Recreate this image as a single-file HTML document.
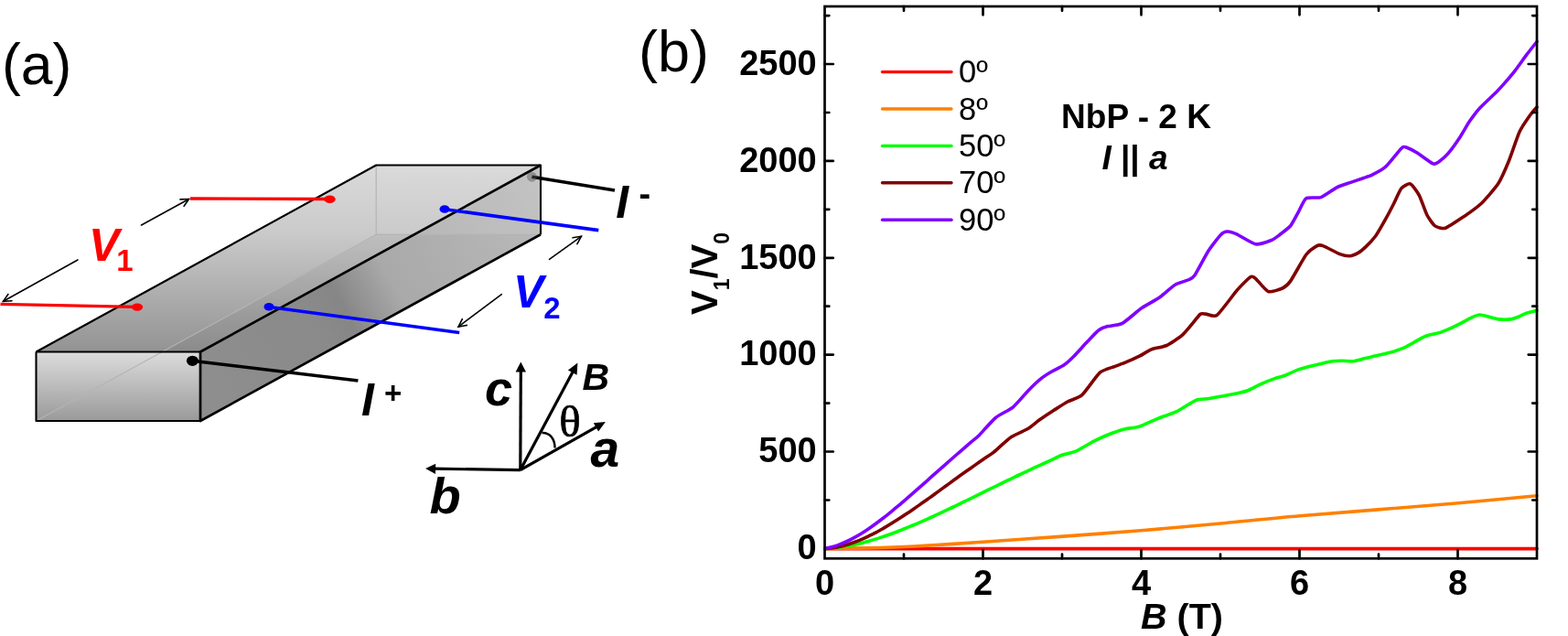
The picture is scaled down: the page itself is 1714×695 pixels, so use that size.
<!DOCTYPE html>
<html><head><meta charset="utf-8"><style>
html,body{margin:0;padding:0;background:#fff;}
svg{display:block;}
text{font-family:"Liberation Sans",Arial,sans-serif;}
.serif{font-family:"Liberation Serif","Times New Roman",serif;}
</style></head><body>
<svg width="1714" height="695" viewBox="0 0 1714 695">
<defs>
<linearGradient id="gTop" gradientUnits="userSpaceOnUse" x1="0" y1="180.5" x2="0" y2="384.5">
<stop offset="0" stop-color="#dadada"/><stop offset="0.35" stop-color="#cbcbcb"/><stop offset="1" stop-color="#939393"/>
</linearGradient>
<linearGradient id="gRight" gradientUnits="userSpaceOnUse" x1="219" y1="422" x2="591" y2="218">
<stop offset="0" stop-color="#8e8e8e"/><stop offset="0.34" stop-color="#8a8a8a"/><stop offset="0.42" stop-color="#868686"/><stop offset="0.56" stop-color="#a9a9a9"/><stop offset="1" stop-color="#bababa"/>
</linearGradient>
<linearGradient id="gFront" x1="0" y1="0" x2="0" y2="1">
<stop offset="0" stop-color="#dcdcdc"/><stop offset="1" stop-color="#9a9a9a"/>
</linearGradient>
</defs>

<!-- panel a -->
<text x="2" y="92" font-size="62.5">(a)</text>

<!-- bar -->
<polygon points="39.5,384.5 219,384.5 591,180.5 411.2,180.5" fill="url(#gTop)"/>
<polygon points="219,384.5 591,180.5 591,256.3 219,460" fill="url(#gRight)"/>
<polygon points="39.5,384.5 219,384.5 219,460 39.5,460" fill="url(#gFront)"/>
<polygon points="177,384.5 219,384.5 453,256.3 411.2,256.3" fill="#000" opacity="0.05"/>
<polygon points="453,256.3 591,180.5 591,256.3" fill="#fff" opacity="0.12"/>
<g stroke="#b4b4b4" stroke-width="1.2" fill="none">
<path d="M39.5,460L411.2,256.3L591,256.3M411.2,256.3V180.5"/>
</g>
<g stroke="#000" fill="none" stroke-linejoin="round">
<path d="M39.5,384.5L411.2,180.5H591V256.3M39.5,384.5H219M39.5,384.5V460H219" stroke-width="2.1"/>
<path d="M591,256.3L219,460V384.5L591,180.5" stroke-width="2.7"/>
</g>

<!-- wires -->
<g stroke-width="3.3" fill="none" stroke-linecap="butt">
<line x1="208" y1="217" x2="358" y2="217.5" stroke="#ff0000"/>
<line x1="0.5" y1="332.4" x2="148" y2="335.3" stroke="#ff0000"/>
<line x1="484.7" y1="228.5" x2="654.3" y2="251.6" stroke="#0000ff" stroke-width="3.6"/>
<line x1="292.7" y1="335.3" x2="502.2" y2="363.5" stroke="#0000ff" stroke-width="3.6"/>
<line x1="210" y1="394.3" x2="391.4" y2="415.9" stroke="#000" stroke-width="3.5"/>
<line x1="581.4" y1="193.2" x2="672" y2="208" stroke="#000" stroke-width="3.5"/>
</g>
<ellipse cx="360.5" cy="217.8" rx="6.2" ry="4.2" fill="#ff0000"/>
<ellipse cx="150" cy="335.6" rx="6.2" ry="4.2" fill="#ff0000"/>
<ellipse cx="486" cy="228.5" rx="5.5" ry="4.3" fill="#0000ff"/>
<ellipse cx="294" cy="335.3" rx="5.5" ry="4.3" fill="#0000ff"/>
<ellipse cx="210.4" cy="394.3" rx="6.5" ry="5.6" fill="#000"/>
<circle cx="581.4" cy="193.2" r="5.5" fill="#555" opacity="0.45"/>

<!-- dimension arrows -->
<g stroke="#000" stroke-width="1.6" fill="none" stroke-linecap="round" stroke-linejoin="miter">
<line x1="154.5" y1="246" x2="206.5" y2="217.5"/><polyline points="201.1,225.3 206.5,217.5 197.0,217.9"/><line x1="85" y1="284" x2="3.5" y2="329.3"/><polyline points="8.9,321.5 3.5,329.3 13.0,328.8"/><line x1="600.5" y1="283.3" x2="635.4" y2="258.3"/><polyline points="630.9,266.7 635.4,258.3 626.0,259.8"/><line x1="548.3" y1="321.7" x2="501" y2="357.1"/><polyline points="505.3,348.6 501,357.1 510.3,355.4"/>
</g>

<text x="97" y="285" font-size="50" font-weight="bold" font-style="italic" fill="#ff0000">V<tspan font-size="33" font-style="normal" dx="-3" dy="11">1</tspan></text>
<text x="561" y="336" font-size="50" font-weight="bold" font-style="italic" fill="#0000ff">V<tspan font-size="33" font-style="normal" dy="12">2</tspan></text>
<text x="395" y="454" font-size="50" font-weight="bold" font-style="italic">I</text>
<text x="420" y="441" font-size="33" font-weight="bold">+</text>
<text x="673.3" y="238.3" font-size="50" font-weight="bold" font-style="italic">I</text>
<text x="698.5" y="224.5" font-size="38" font-weight="bold">-</text>

<!-- axes triad -->
<line x1="568.8" y1="513.6" x2="569.3" y2="404.4" stroke="#000" stroke-width="3.2"/><polygon points="569.3,395.4 575.0,406.4 563.6,406.4" fill="#000"/><line x1="568.8" y1="513.6" x2="474.1" y2="512.2" stroke="#000" stroke-width="3.2"/><polygon points="465.1,512.1 476.2,506.7 476.0,517.9" fill="#000"/><line x1="568.8" y1="513.6" x2="626.7" y2="405.3" stroke="#000" stroke-width="3.2"/><polygon points="631.4,396.5 630.6,409.7 620.9,404.5" fill="#000"/><line x1="568.8" y1="513.6" x2="653.2" y2="465.9" stroke="#000" stroke-width="3.2"/><polygon points="661.9,461.0 654.1,471.6 648.8,462.2" fill="#000"/>
<path d="M592.5,473C600.5,472.5 606.5,479 606.6,489.5" stroke="#000" stroke-width="2.4" fill="none"/>
<text x="530" y="443" font-size="54" font-weight="bold" font-style="italic">c</text>
<text x="636.5" y="425.5" font-size="41" font-weight="bold" font-style="italic">B</text>
<text x="611.3" y="476.5" font-size="49" class="serif" stroke="#000" stroke-width="0.7">θ</text>
<text x="645.5" y="509.5" font-size="57" font-weight="bold" font-style="italic">a</text>
<text x="469.5" y="560.5" font-size="56" font-weight="bold" font-style="italic">b</text>

<!-- panel b -->
<text x="698" y="78.2" font-size="63">(b)</text>

<g fill="none" stroke-linejoin="round" stroke-linecap="round" stroke-width="3.6">
<path d="M902.0,599.6C979.8,599.6 1602.2,599.6 1680.0,599.6" stroke="#ff0000"/>
<path d="M902.0,599.5C903.0,599.5 907.3,599.5 912.0,599.4C916.7,599.3 940.1,599.1 948.9,598.9C957.7,598.7 987.5,597.7 1000.0,597.0C1012.5,596.3 1058.5,593.4 1074.4,592.3C1090.3,591.2 1141.4,587.6 1158.7,586.4C1176.0,585.1 1228.9,581.3 1247.0,579.8C1265.1,578.3 1322.6,573.1 1340.0,571.5C1357.4,569.9 1395.7,565.9 1420.8,563.8C1445.9,561.6 1565.5,552.2 1591.4,550.0C1617.3,547.8 1671.1,542.5 1680.0,541.7" stroke="#ff8000"/>
<path d="M902.0,599.5C902.8,599.5 908.4,599.1 910.0,599.0C911.6,598.9 916.4,598.2 918.0,598.0C919.6,597.8 924.4,597.1 926.0,596.8C927.6,596.5 932.4,595.5 934.0,595.2C935.6,594.9 940.4,593.8 942.0,593.4C943.6,593.0 948.4,591.7 950.0,591.2C951.6,590.8 956.4,589.4 958.0,588.9C959.6,588.4 964.4,586.8 966.0,586.3C967.6,585.8 972.4,584.1 974.0,583.5C975.6,582.9 980.4,581.1 982.0,580.5C983.6,579.9 988.4,577.9 990.0,577.3C991.6,576.6 996.4,574.7 998.0,574.0C999.6,573.3 1004.4,571.3 1006.0,570.6C1007.6,569.9 1012.4,567.8 1014.0,567.1C1015.6,566.4 1020.4,564.1 1022.0,563.4C1023.6,562.7 1028.4,560.5 1030.0,559.7C1031.6,559.0 1036.4,556.7 1038.0,555.9C1039.6,555.1 1044.4,552.9 1046.0,552.1C1047.6,551.3 1052.4,549.0 1054.0,548.2C1055.6,547.4 1060.4,545.1 1062.0,544.3C1063.6,543.5 1068.4,541.2 1070.0,540.4C1071.6,539.6 1076.4,537.2 1078.0,536.4C1079.6,535.6 1084.4,533.3 1086.0,532.5C1087.6,531.7 1092.4,529.4 1094.0,528.6C1095.6,527.8 1100.4,525.5 1102.0,524.7C1103.6,523.9 1108.4,521.7 1110.0,520.9C1111.6,520.1 1116.4,517.9 1118.0,517.1C1119.6,516.3 1124.4,514.0 1126.0,513.3C1127.6,512.5 1132.4,510.3 1134.0,509.6C1135.6,508.9 1140.4,506.7 1142.0,506.0C1143.6,505.3 1148.2,503.2 1150.0,502.4C1151.8,501.6 1156.9,498.7 1159.6,497.7C1162.3,496.7 1173.0,494.4 1176.7,492.8C1180.4,491.2 1192.3,483.8 1196.2,481.8C1200.1,479.9 1212.4,474.6 1215.8,473.3C1219.2,472.0 1227.0,469.4 1230.0,468.7C1233.0,468.0 1241.9,467.3 1245.5,466.1C1249.1,464.9 1262.1,458.8 1266.3,457.1C1270.5,455.4 1282.9,451.3 1287.0,449.3C1291.1,447.3 1304.4,438.5 1307.7,437.1C1311.0,435.7 1317.2,436.1 1320.0,435.7C1322.8,435.3 1332.6,433.6 1335.8,433.0C1339.0,432.4 1348.7,430.5 1351.5,429.9C1354.3,429.3 1361.5,427.7 1364.1,426.7C1366.7,425.7 1374.9,421.2 1377.8,419.9C1380.7,418.6 1390.9,414.5 1393.5,413.6C1396.1,412.7 1401.4,411.5 1404.0,410.5C1406.6,409.5 1416.6,404.7 1419.8,403.6C1423.0,402.5 1431.8,400.3 1435.5,399.4C1439.2,398.5 1453.3,395.2 1456.5,394.7C1459.7,394.2 1464.7,394.2 1467.0,394.2C1469.3,394.2 1477.4,394.9 1479.7,394.7C1482.0,394.5 1488.2,392.6 1490.2,392.1C1492.2,391.6 1497.4,390.3 1500.0,389.7C1502.6,389.1 1512.8,387.1 1516.2,386.1C1519.7,385.2 1531.6,381.4 1534.5,380.2C1537.4,379.0 1543.1,375.5 1545.3,374.3C1547.5,373.1 1554.1,369.2 1556.1,368.3C1558.0,367.4 1562.8,366.1 1564.8,365.6C1566.8,365.1 1572.9,363.9 1575.6,362.9C1578.3,361.9 1588.5,357.5 1591.7,355.9C1594.9,354.3 1605.3,348.5 1607.9,347.3C1610.5,346.1 1615.6,344.1 1617.6,344.0C1619.5,343.9 1625.3,345.7 1627.4,346.2C1629.5,346.7 1635.8,348.6 1638.2,348.9C1640.6,349.2 1648.9,349.2 1651.1,348.9C1653.2,348.6 1657.9,346.9 1659.7,346.2C1661.5,345.5 1667.5,342.6 1669.5,341.9C1671.5,341.2 1679.0,339.5 1680.0,339.2" stroke="#00ff00"/>
<path d="M902.0,599.5C902.8,599.4 908.4,599.0 910.0,598.8C911.6,598.6 916.4,597.7 918.0,597.3C919.6,596.9 924.4,595.7 926.0,595.2C927.6,594.7 932.4,593.1 934.0,592.5C935.6,591.9 940.4,590.0 942.0,589.3C943.6,588.6 948.4,586.4 950.0,585.6C951.6,584.8 956.4,582.5 958.0,581.6C959.6,580.8 964.4,578.0 966.0,577.1C967.6,576.2 972.4,573.3 974.0,572.3C975.6,571.3 980.4,568.3 982.0,567.3C983.6,566.3 988.4,563.2 990.0,562.1C991.6,561.0 996.4,557.8 998.0,556.7C999.6,555.6 1004.4,552.2 1006.0,551.1C1007.6,550.0 1012.4,546.5 1014.0,545.4C1015.6,544.3 1020.4,540.9 1022.0,539.7C1023.6,538.6 1028.4,535.1 1030.0,533.9C1031.6,532.7 1036.4,529.3 1038.0,528.1C1039.6,526.9 1044.4,523.4 1046.0,522.3C1047.6,521.1 1052.4,517.7 1054.0,516.6C1055.6,515.5 1060.4,512.0 1062.0,510.9C1063.6,509.8 1068.4,506.4 1070.0,505.3C1071.6,504.2 1076.4,500.9 1078.0,499.8C1079.6,498.7 1083.3,496.6 1086.0,494.4C1088.7,492.2 1101.6,480.2 1105.4,477.6C1109.2,475.0 1120.5,470.4 1123.6,468.5C1126.7,466.6 1134.0,460.4 1136.7,458.5C1139.4,456.6 1148.0,450.9 1151.0,449.0C1154.0,447.1 1163.7,440.7 1166.9,439.0C1170.1,437.3 1179.3,434.9 1182.8,431.7C1186.3,428.5 1198.8,410.3 1202.3,407.2C1205.8,404.1 1215.4,401.7 1218.2,400.6C1221.0,399.5 1227.3,397.3 1230.0,396.2C1232.7,395.1 1242.7,390.6 1245.5,389.2C1248.3,387.8 1255.5,383.1 1258.5,381.9C1261.5,380.7 1271.9,379.1 1275.3,377.5C1278.7,375.9 1289.5,368.7 1292.2,366.4C1294.9,364.1 1300.5,357.1 1302.5,354.8C1304.5,352.5 1310.5,344.5 1312.1,343.3C1313.7,342.1 1316.3,343.0 1318.1,343.1C1319.9,343.2 1326.8,347.0 1330.2,344.5C1333.6,342.0 1348.5,321.6 1351.8,317.7C1355.1,313.8 1361.9,307.0 1363.5,305.5C1365.1,304.0 1367.1,302.4 1368.0,302.3C1368.9,302.2 1370.7,302.7 1372.5,304.3C1374.3,305.9 1383.5,317.5 1386.4,318.6C1389.3,319.7 1399.5,316.1 1401.9,315.0C1404.3,313.9 1407.9,311.1 1410.5,307.4C1413.1,303.7 1424.9,282.2 1427.8,278.3C1430.7,274.4 1437.9,269.6 1439.7,268.6C1441.5,267.6 1443.7,267.7 1446.2,268.6C1448.7,269.5 1461.6,276.5 1464.5,277.6C1467.4,278.7 1473.2,279.9 1475.3,279.8C1477.3,279.7 1483.2,277.1 1485.0,276.1C1486.8,275.1 1491.1,271.4 1493.0,269.6C1494.9,267.8 1501.6,260.7 1503.8,257.7C1506.0,254.7 1512.7,242.8 1514.6,239.4C1516.5,236.0 1521.5,226.5 1523.2,223.2C1524.9,219.8 1530.0,208.1 1531.8,205.9C1533.6,203.7 1539.6,200.2 1541.6,200.9C1543.5,201.7 1549.5,210.0 1551.3,213.4C1553.1,216.8 1558.2,231.7 1559.9,235.0C1561.6,238.3 1566.6,245.5 1568.6,246.9C1570.6,248.3 1576.9,250.2 1580.0,249.2C1583.1,248.2 1595.8,239.6 1599.8,236.9C1603.8,234.2 1615.8,225.6 1619.6,222.0C1623.4,218.4 1634.8,205.1 1637.8,200.5C1640.8,195.9 1647.1,181.3 1649.4,175.7C1651.7,170.1 1658.6,149.2 1660.9,144.2C1663.2,139.2 1670.6,128.7 1672.5,126.0C1674.4,123.3 1679.2,117.9 1680.0,117.0" stroke="#800000"/>
<path d="M902.0,599.3C902.8,599.1 908.4,598.0 910.0,597.6C911.6,597.2 916.4,595.5 918.0,594.9C919.6,594.3 924.4,592.2 926.0,591.5C927.6,590.8 932.4,588.3 934.0,587.4C935.6,586.5 940.4,583.7 942.0,582.7C943.6,581.7 948.4,578.5 950.0,577.4C951.6,576.3 956.4,572.9 958.0,571.7C959.6,570.5 964.4,566.9 966.0,565.7C967.6,564.5 972.4,560.6 974.0,559.3C975.6,558.0 980.4,554.1 982.0,552.7C983.6,551.4 988.4,547.2 990.0,545.8C991.6,544.4 996.4,540.3 998.0,538.9C999.6,537.5 1004.4,533.2 1006.0,531.8C1007.6,530.4 1012.4,526.2 1014.0,524.8C1015.6,523.4 1020.4,519.0 1022.0,517.6C1023.6,516.2 1028.4,512.0 1030.0,510.6C1031.6,509.2 1036.4,504.9 1038.0,503.5C1039.6,502.1 1044.4,497.9 1046.0,496.5C1047.6,495.1 1052.4,491.0 1054.0,489.6C1055.6,488.2 1060.4,484.1 1062.0,482.7C1063.6,481.3 1067.4,478.6 1070.0,476.0C1072.6,473.4 1084.5,459.6 1088.3,456.5C1092.0,453.4 1103.9,447.8 1107.5,444.8C1111.1,441.8 1121.5,429.4 1124.6,426.2C1127.7,423.0 1136.2,415.1 1138.7,413.1C1141.2,411.1 1147.3,407.4 1149.8,406.0C1152.2,404.6 1160.8,400.4 1163.2,398.7C1165.6,397.0 1171.6,391.5 1174.2,388.9C1176.8,386.3 1186.2,375.8 1188.9,373.0C1191.6,370.2 1198.9,362.4 1201.1,360.8C1203.3,359.2 1208.3,357.3 1210.9,356.6C1213.5,355.9 1223.1,355.4 1226.8,353.4C1230.5,351.4 1244.0,339.4 1248.1,336.6C1252.2,333.8 1264.0,327.5 1267.6,325.0C1271.2,322.5 1281.2,313.1 1284.4,311.2C1287.6,309.2 1297.7,306.6 1299.9,305.5C1302.1,304.4 1304.1,303.5 1306.2,300.4C1308.3,297.3 1317.9,278.9 1320.7,274.5C1323.5,270.1 1332.4,258.5 1334.5,256.4C1336.6,254.2 1339.8,253.1 1341.5,253.0C1343.2,252.9 1348.7,254.5 1351.8,255.9C1354.9,257.3 1368.7,266.1 1372.5,266.8C1376.3,267.5 1387.2,263.5 1389.8,262.5C1392.4,261.5 1396.5,258.2 1398.6,256.7C1400.7,255.1 1408.4,249.5 1410.5,247.0C1412.6,244.5 1417.5,234.8 1419.2,231.8C1420.9,228.8 1425.3,218.3 1427.8,216.7C1430.3,215.1 1440.7,216.8 1444.0,215.6C1447.3,214.4 1458.1,206.4 1461.3,204.8C1464.5,203.2 1473.5,200.4 1476.4,199.4C1479.3,198.4 1487.7,195.5 1490.0,194.7C1492.3,193.9 1497.1,192.6 1499.4,191.4C1501.8,190.2 1511.1,185.1 1513.5,183.2C1515.9,181.3 1521.3,174.6 1523.2,172.4C1525.1,170.2 1531.5,162.3 1532.9,161.2C1534.3,160.1 1535.6,160.4 1537.2,161.0C1538.8,161.6 1546.2,165.2 1549.1,167.0C1552.0,168.8 1564.0,177.9 1566.4,178.9C1568.8,179.9 1571.2,177.8 1572.9,176.7C1574.6,175.5 1580.9,170.2 1583.2,167.4C1585.5,164.7 1594.1,152.7 1596.4,149.2C1598.7,145.7 1604.2,135.8 1606.4,132.6C1608.6,129.4 1614.9,120.9 1617.9,117.7C1620.9,114.5 1633.5,102.8 1636.1,100.2C1638.7,97.6 1642.2,93.7 1644.2,91.4C1646.2,89.1 1653.6,80.4 1656.0,77.3C1658.4,74.2 1666.1,63.4 1668.5,60.2C1670.9,57.0 1678.8,47.0 1680.0,45.5" stroke="#8000ff"/>
</g>
<rect x="901.5" y="7" width="778.5" height="603.3" fill="none" stroke="#000" stroke-width="2.7"/>
<path d="M988.0,610.3V605.5M988.0,7V11.8M1074.5,610.3V601.0M1074.5,7V16.3M1161.0,610.3V605.5M1161.0,7V11.8M1247.5,610.3V601.0M1247.5,7V16.3M1334.0,610.3V605.5M1334.0,7V11.8M1420.5,610.3V601.0M1420.5,7V16.3M1507.0,610.3V605.5M1507.0,7V11.8M1593.5,610.3V601.0M1593.5,7V16.3M901.5,546.5H906.3M1680,546.5H1675.2M901.5,493.5H910.8M1680,493.5H1670.7M901.5,440.6H906.3M1680,440.6H1675.2M901.5,387.6H910.8M1680,387.6H1670.7M901.5,334.7H906.3M1680,334.7H1675.2M901.5,281.8H910.8M1680,281.8H1670.7M901.5,228.8H906.3M1680,228.8H1675.2M901.5,175.9H910.8M1680,175.9H1670.7M901.5,123.0H906.3M1680,123.0H1675.2M901.5,70.0H910.8M1680,70.0H1670.7M901.5,17.1H906.3M1680,17.1H1675.2" stroke="#000" stroke-width="2.7" fill="none" stroke-linecap="round"/>

<g font-size="38" font-weight="bold"><text x="901.5" y="650" text-anchor="middle">0</text><text x="1074.5" y="650" text-anchor="middle">2</text><text x="1247.5" y="650" text-anchor="middle">4</text><text x="1420.5" y="650" text-anchor="middle">6</text><text x="1593.5" y="650" text-anchor="middle">8</text><text x="892.7" y="611.1" text-anchor="end">0</text><text x="892.7" y="505.2" text-anchor="end">500</text><text x="892.7" y="399.3" text-anchor="end">1000</text><text x="892.7" y="293.5" text-anchor="end">1500</text><text x="892.7" y="187.6" text-anchor="end">2000</text><text x="892.7" y="81.7" text-anchor="end">2500</text></g>
<g font-size="34.5"><line x1="964.5" y1="78.6" x2="1040" y2="78.6" stroke="#ff0000" stroke-width="3.4" stroke-linecap="round"/><text x="1048" y="90.2">0º</text><line x1="964.5" y1="119.0" x2="1040" y2="119.0" stroke="#ff8000" stroke-width="3.4" stroke-linecap="round"/><text x="1048" y="130.6">8º</text><line x1="964.5" y1="159.4" x2="1040" y2="159.4" stroke="#00ff00" stroke-width="3.4" stroke-linecap="round"/><text x="1048" y="171.0">50º</text><line x1="964.5" y1="199.8" x2="1040" y2="199.8" stroke="#800000" stroke-width="3.4" stroke-linecap="round"/><text x="1048" y="211.4">70º</text><line x1="964.5" y1="240.2" x2="1040" y2="240.2" stroke="#8000ff" stroke-width="3.4" stroke-linecap="round"/><text x="1048" y="251.8">90º</text></g>
<text x="1242" y="140" font-size="37" font-weight="bold" text-anchor="middle">NbP - 2 K</text>
<text x="1240.5" y="184.8" font-size="37" font-weight="bold" text-anchor="middle"><tspan font-style="italic">I</tspan> || <tspan font-style="italic">a</tspan></text>

<text x="1292" y="687" font-size="39.5" font-weight="bold" text-anchor="middle"><tspan font-style="italic">B</tspan> (T)</text>
<text transform="translate(784,299) rotate(-90)" font-size="40" font-weight="bold" text-anchor="middle">V<tspan font-size="23" dy="13">1</tspan><tspan dy="-13">/V</tspan><tspan font-size="23" dy="13">0</tspan></text>
</svg>
</body></html>
